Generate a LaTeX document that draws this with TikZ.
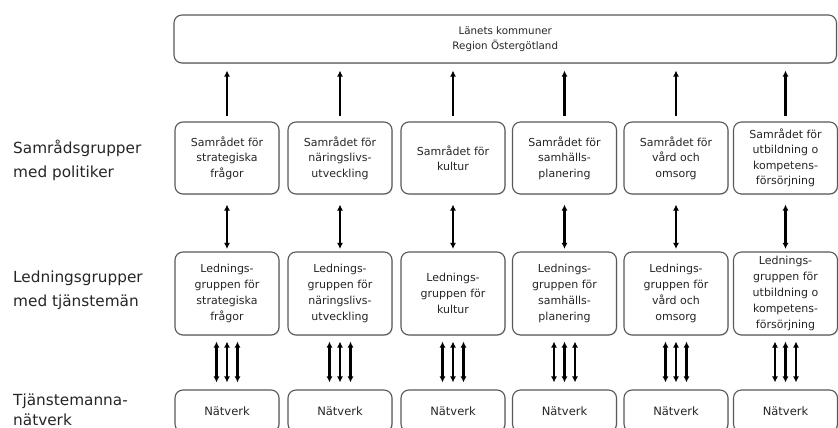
\documentclass[tikz,border=0pt]{standalone}
\usepackage{fontspec}
\setmainfont{DejaVu Sans}
\usetikzlibrary{arrows.meta,shadows}
\begin{document}
\begin{tikzpicture}[x=1pt,y=-1pt,
  box/.style={draw=black!65, line width=1.1pt, rounded corners=8pt, fill=white,
    align=center, text=black!85, inner sep=0pt,
    drop shadow={opacity=0.25, shadow xshift=0.9pt, shadow yshift=-0.9pt}},
  sbox/.style={box, minimum width=104pt, minimum height=72pt, font=\fontsize{11}{15.5}\selectfont},
  lbox/.style={box, minimum width=104pt, minimum height=83pt, font=\fontsize{11}{15.8}\selectfont},
  nbox/.style={box, minimum width=104pt, minimum height=42pt, font=\fontsize{11.5}{14}\selectfont},
  side/.style={anchor=west, align=left, inner sep=0pt, text=black!85},
  arr/.style={-{Latex[length=6pt,width=6pt]}, line width=2.1pt},
  darr/.style={{Latex[length=6pt,width=6pt]}-{Latex[length=6pt,width=6pt]}, line width=2.1pt}]
\clip (0,0) rectangle (838,428);
\fill[white] (0,0) rectangle (838,428);

\node[box, minimum width=662.5pt, minimum height=48pt, font=\fontsize{10.3}{15.5}\selectfont] (top) at (505.25,39) {Länets kommuner\\Region Östergötland};

\node[side, font=\fontsize{15.3}{24}\selectfont] (g1) at (13,160) {Samrådsgrupper\\med politiker};
\node[side, font=\fontsize{15.3}{24}\selectfont] (g2) at (13,290) {Ledningsgrupper\\med tjänstemän};
\node[side, font=\fontsize{15.3}{19.5}\selectfont] (g3) at (13,410) {Tjänstemanna-\\nätverk};

\node[sbox] (s1) at (227,158) {Samrådet för\\strategiska\\frågor};
\node[sbox] (s2) at (340,158) {Samrådet för\\näringslivs-\\utveckling};
\node[sbox] (s3) at (453,158) {Samrådet för\\kultur};
\node[sbox] (s4) at (564.5,158) {Samrådet för\\samhälls-\\planering};
\node[sbox] (s5) at (676,158) {Samrådet för\\vård och\\omsorg};
\node[sbox] (s6) at (785.5,158) {Samrådet för\\utbildning o\\kompetens-\\försörjning};

\node[lbox] (l1) at (227,293.5) {Lednings-\\gruppen för\\strategiska\\frågor};
\node[lbox] (l2) at (340,293.5) {Lednings-\\gruppen för\\näringslivs-\\utveckling};
\node[lbox] (l3) at (453,293.5) {Lednings-\\gruppen för\\kultur};
\node[lbox] (l4) at (564.5,293.5) {Lednings-\\gruppen för\\samhälls-\\planering};
\node[lbox] (l5) at (676,293.5) {Lednings-\\gruppen för\\vård och\\omsorg};
\node[lbox] (l6) at (785.5,293.5) {Lednings-\\gruppen för\\utbildning o\\kompetens-\\försörjning};

\foreach \i/\x in {1/227,2/340,3/453,4/564.5,5/676,6/785.5}
  \node[nbox] (n\i) at (\x,411) {Nätverk};

\foreach \i in {1,...,6}{
  \draw[arr, shorten <=5pt, shorten >=7pt] (s\i.north) -- (s\i.north |- top.south);
  \draw[darr, shorten <=10pt, shorten >=2.5pt] (s\i.south) -- (l\i.north);
  \foreach \d in {-10.5,0,10.5}
    \draw[darr, shorten <=6pt, shorten >=7pt] ([xshift=\d pt]l\i.south) -- ([xshift=\d pt]n\i.north);
}
\end{tikzpicture}
\end{document}
